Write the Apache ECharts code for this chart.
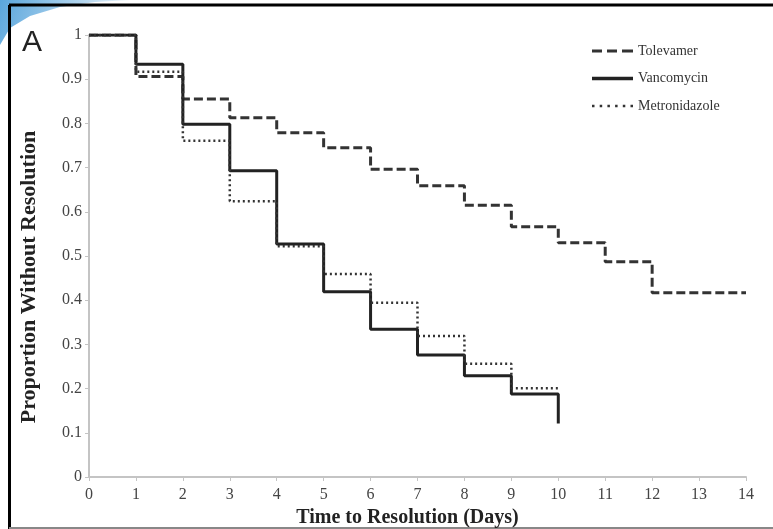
<!DOCTYPE html>
<html>
<head>
<meta charset="utf-8">
<script src="https://cdn.jsdelivr.net/npm/echarts@6/dist/echarts.min.js"></script>
<style>html,body{margin:0;padding:0;background:#fff;}#c{width:773px;height:529px;}</style>
</head>
<body>
<div id="c"></div>
<script>
const days = [0,1,2,3,4,5,6,7,8,9,10,11,12,13,14];
const tolevamer = [1, 0.906, 0.855, 0.813, 0.779, 0.745, 0.696, 0.659, 0.615, 0.566, 0.530, 0.487, 0.417, 0.417, 0.417];
const vancomycin = [1, 0.934, 0.798, 0.693, 0.527, 0.419, 0.334, 0.276, 0.229, 0.188, 0.121];
const metronidazole = [1, 0.917, 0.761, 0.624, 0.522, 0.459, 0.394, 0.319, 0.256, 0.201, 0.201];
const seriesNames = ['Tolevamer', 'Vancomycin', 'Metronidazole'];
const xTicks = [0,1,2,3,4,5,6,7,8,9,10,11,12,13,14];
const yTicks = ['0','0.1','0.2','0.3','0.4','0.5','0.6','0.7','0.8','0.9','1'];

const pairs = (vals) => vals.map((v, i) => [days[i], v]);
const serif = '"Liberation Serif", "DejaVu Serif", serif';
const legendIcons = [
  'path://M0,0h10v3h-10z M15,0h10v3h-10z M30,0h11v3h-11z',
  'path://M0,0h41v3.5h-41z',
  'path://M0,0h2.5v2.5h-2.5z M7.7,0h2.5v2.5h-2.5z M15.4,0h2.5v2.5h-2.5z M23.1,0h2.5v2.5h-2.5z M30.8,0h2.5v2.5h-2.5z M38.5,0h2.5v2.5h-2.5z'
];

const chart = echarts.init(document.getElementById('c'), null, {renderer: 'canvas'});
chart.setOption({
  animation: false,
  backgroundColor: '#fff',
  graphic: [
    {type: 'polygon', z: -10, shape: {points: [[0,0],[130,0],[95,2],[60,7],[30,16],[10,28],[0,45]]},
     style: {fill: {type: 'linear', x: 0, y: 0, x2: 1, y2: 1, colorStops: [{offset:0,color:'#5aa6dc'},{offset:0.6,color:'#b9d9f0'},{offset:1,color:'#ffffff'}]}}},
    {type: 'line', shape: {x1: 9, y1: 5, x2: 773, y2: 5}, style: {stroke: '#000', lineWidth: 3}},
    {type: 'line', shape: {x1: 9.5, y1: 5, x2: 9.5, y2: 529}, style: {stroke: '#000', lineWidth: 3}},
    {type: 'line', shape: {x1: 9, y1: 528, x2: 773, y2: 528}, style: {stroke: '#888', lineWidth: 2}},
    {type: 'text', left: 22, top: 28, style: {text: 'A', font: '30px "Liberation Sans", Arial, sans-serif', fill: '#222'}}
  ],
  grid: {left: 89, right: 27, top: 35, bottom: 52, outerBoundsMode: 'none', containLabel: false},
  legend: {
    orient: 'vertical', left: 587, top: 39, itemWidth: 41, itemHeight: 14, itemGap: 13.5,
    textStyle: {fontFamily: serif, fontSize: 14, color: '#333'},
    data: seriesNames.map((n, i) => ({name: n, icon: legendIcons[i]}))
  },
  xAxis: {
    type: 'value', min: 0, max: 14, interval: 1,
    name: 'Time to Resolution (Days)', nameLocation: 'middle', nameGap: 31,
    nameTextStyle: {fontFamily: serif, fontSize: 20, fontWeight: 'bold', color: '#222', padding: [0, 20, 0, 0]},
    axisLine: {lineStyle: {color: '#c4c4c4', width: 2}},
    axisTick: {length: 4, lineStyle: {color: '#c4c4c4'}},
    axisLabel: {margin: 10, fontFamily: serif, fontSize: 16, color: '#444', formatter: (v) => String(xTicks[v])},
    splitLine: {show: false}
  },
  yAxis: {
    type: 'value', min: 0, max: 1, interval: 0.1,
    name: 'Proportion Without Resolution', nameLocation: 'middle', nameGap: 49,
    nameTextStyle: {fontFamily: serif, fontSize: 22, fontWeight: 'bold', color: '#222', padding: [0, 42, 0, 0]},
    axisLine: {show: true, lineStyle: {color: '#c4c4c4', width: 2}},
    axisTick: {show: true, length: 4, lineStyle: {color: '#c4c4c4'}},
    axisLabel: {margin: 7, fontFamily: serif, fontSize: 16, color: '#444', formatter: (v) => yTicks[Math.round(v * 10)]},
    splitLine: {show: false}
  },
  series: [
    {name: seriesNames[0], type: 'line', step: 'end', symbol: 'none', data: pairs(tolevamer),
     lineStyle: {color: '#333', width: 3, type: [9, 4]}, itemStyle: {color: '#333'}},
    {name: seriesNames[1], type: 'line', step: 'end', symbol: 'none', data: pairs(vancomycin),
     lineStyle: {color: '#222', width: 3, type: 'solid'}, itemStyle: {color: '#222'}},
    {name: seriesNames[2], type: 'line', step: 'end', symbol: 'none', data: pairs(metronidazole),
     lineStyle: {color: '#333', width: 2.5, type: [2, 3]}, itemStyle: {color: '#333'}}
  ]
});
</script>
</body>
</html>
